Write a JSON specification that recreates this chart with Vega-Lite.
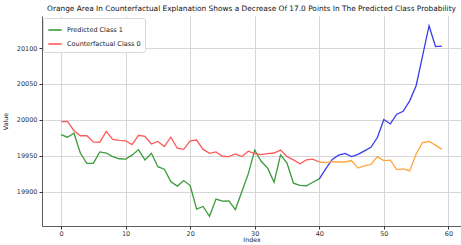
{
  "$schema": "https://vega.github.io/schema/vega-lite/v6.json",
  "width": 419,
  "height": 210,
  "autosize": {"type": "none"},
  "padding": {"left": 42, "top": 16, "right": 0, "bottom": 19},
  "background": "white",
  "title": {
    "text": "Orange Area In Counterfactual Explanation Shows a Decrease Of 17.0 Points In The Predicted Class Probability",
    "font": "DejaVu Sans",
    "fontSize": 7.4,
    "fontWeight": "normal",
    "color": "#111",
    "anchor": "middle",
    "offset": 4
  },
  "config": {
    "view": {"stroke": null},
    "axis": {
      "labelFont": "DejaVu Sans",
      "labelFontSize": 6.5,
      "labelColor": "#333",
      "titleFont": "DejaVu Sans",
      "titleFontSize": 6.3,
      "titleFontWeight": "normal",
      "titleColor": "#222",
      "tickColor": "#333",
      "tickSize": 3,
      "domainColor": "#333",
      "domainWidth": 0.8,
      "gridColor": "#d2d2d2",
      "gridWidth": 0.9
    }
  },
  "data": {
    "values": [
      {"i":0,"v":19979.6,"s":"Predicted Class 1"},
      {"i":1,"v":19976,"s":"Predicted Class 1"},
      {"i":2,"v":19981.4,"s":"Predicted Class 1"},
      {"i":3,"v":19953.6,"s":"Predicted Class 1"},
      {"i":4,"v":19939.7,"s":"Predicted Class 1"},
      {"i":5,"v":19939.7,"s":"Predicted Class 1"},
      {"i":6,"v":19955.5,"s":"Predicted Class 1"},
      {"i":7,"v":19954,"s":"Predicted Class 1"},
      {"i":8,"v":19949,"s":"Predicted Class 1"},
      {"i":9,"v":19946,"s":"Predicted Class 1"},
      {"i":10,"v":19945.5,"s":"Predicted Class 1"},
      {"i":11,"v":19951,"s":"Predicted Class 1"},
      {"i":12,"v":19958.7,"s":"Predicted Class 1"},
      {"i":13,"v":19944.4,"s":"Predicted Class 1"},
      {"i":14,"v":19953.6,"s":"Predicted Class 1"},
      {"i":15,"v":19935,"s":"Predicted Class 1"},
      {"i":16,"v":19931.4,"s":"Predicted Class 1"},
      {"i":17,"v":19914.3,"s":"Predicted Class 1"},
      {"i":18,"v":19908,"s":"Predicted Class 1"},
      {"i":19,"v":19915.7,"s":"Predicted Class 1"},
      {"i":20,"v":19908.7,"s":"Predicted Class 1"},
      {"i":21,"v":19876,"s":"Predicted Class 1"},
      {"i":22,"v":19879.6,"s":"Predicted Class 1"},
      {"i":23,"v":19866,"s":"Predicted Class 1"},
      {"i":24,"v":19890,"s":"Predicted Class 1"},
      {"i":25,"v":19887,"s":"Predicted Class 1"},
      {"i":26,"v":19887.5,"s":"Predicted Class 1"},
      {"i":27,"v":19875.4,"s":"Predicted Class 1"},
      {"i":28,"v":19900,"s":"Predicted Class 1"},
      {"i":29,"v":19925,"s":"Predicted Class 1"},
      {"i":30,"v":19958,"s":"Predicted Class 1"},
      {"i":31,"v":19942.5,"s":"Predicted Class 1"},
      {"i":32,"v":19933,"s":"Predicted Class 1"},
      {"i":33,"v":19913.3,"s":"Predicted Class 1"},
      {"i":34,"v":19951.4,"s":"Predicted Class 1"},
      {"i":35,"v":19940,"s":"Predicted Class 1"},
      {"i":36,"v":19912,"s":"Predicted Class 1"},
      {"i":37,"v":19909,"s":"Predicted Class 1"},
      {"i":38,"v":19908.5,"s":"Predicted Class 1"},
      {"i":39,"v":19913.3,"s":"Predicted Class 1"},
      {"i":40,"v":19918,"s":"Predicted Class 1"},
      {"i":0,"v":19997.6,"s":"Counterfactual Class 0"},
      {"i":1,"v":19998,"s":"Counterfactual Class 0"},
      {"i":2,"v":19985,"s":"Counterfactual Class 0"},
      {"i":3,"v":19978,"s":"Counterfactual Class 0"},
      {"i":4,"v":19978,"s":"Counterfactual Class 0"},
      {"i":5,"v":19969.4,"s":"Counterfactual Class 0"},
      {"i":6,"v":19969,"s":"Counterfactual Class 0"},
      {"i":7,"v":19984,"s":"Counterfactual Class 0"},
      {"i":8,"v":19973,"s":"Counterfactual Class 0"},
      {"i":9,"v":19971.5,"s":"Counterfactual Class 0"},
      {"i":10,"v":19971,"s":"Counterfactual Class 0"},
      {"i":11,"v":19965.7,"s":"Counterfactual Class 0"},
      {"i":12,"v":19978.6,"s":"Counterfactual Class 0"},
      {"i":13,"v":19977,"s":"Counterfactual Class 0"},
      {"i":14,"v":19966.5,"s":"Counterfactual Class 0"},
      {"i":15,"v":19970,"s":"Counterfactual Class 0"},
      {"i":16,"v":19963,"s":"Counterfactual Class 0"},
      {"i":17,"v":19976,"s":"Counterfactual Class 0"},
      {"i":18,"v":19960.6,"s":"Counterfactual Class 0"},
      {"i":19,"v":19959,"s":"Counterfactual Class 0"},
      {"i":20,"v":19971,"s":"Counterfactual Class 0"},
      {"i":21,"v":19972,"s":"Counterfactual Class 0"},
      {"i":22,"v":19959,"s":"Counterfactual Class 0"},
      {"i":23,"v":19953.6,"s":"Counterfactual Class 0"},
      {"i":24,"v":19955.5,"s":"Counterfactual Class 0"},
      {"i":25,"v":19949.5,"s":"Counterfactual Class 0"},
      {"i":26,"v":19949,"s":"Counterfactual Class 0"},
      {"i":27,"v":19952.7,"s":"Counterfactual Class 0"},
      {"i":28,"v":19949,"s":"Counterfactual Class 0"},
      {"i":29,"v":19956.5,"s":"Counterfactual Class 0"},
      {"i":30,"v":19953,"s":"Counterfactual Class 0"},
      {"i":31,"v":19951.8,"s":"Counterfactual Class 0"},
      {"i":32,"v":19953,"s":"Counterfactual Class 0"},
      {"i":33,"v":19954,"s":"Counterfactual Class 0"},
      {"i":34,"v":19958,"s":"Counterfactual Class 0"},
      {"i":35,"v":19949,"s":"Counterfactual Class 0"},
      {"i":36,"v":19944.5,"s":"Counterfactual Class 0"},
      {"i":37,"v":19939,"s":"Counterfactual Class 0"},
      {"i":38,"v":19944.5,"s":"Counterfactual Class 0"},
      {"i":39,"v":19945.5,"s":"Counterfactual Class 0"},
      {"i":40,"v":19941.5,"s":"Counterfactual Class 0"},
      {"i":40,"v":19918,"s":"Predicted Class 1 (explained)"},
      {"i":41,"v":19932,"s":"Predicted Class 1 (explained)"},
      {"i":42,"v":19945,"s":"Predicted Class 1 (explained)"},
      {"i":43,"v":19951,"s":"Predicted Class 1 (explained)"},
      {"i":44,"v":19953.5,"s":"Predicted Class 1 (explained)"},
      {"i":45,"v":19949,"s":"Predicted Class 1 (explained)"},
      {"i":46,"v":19952,"s":"Predicted Class 1 (explained)"},
      {"i":47,"v":19957,"s":"Predicted Class 1 (explained)"},
      {"i":48,"v":19962,"s":"Predicted Class 1 (explained)"},
      {"i":49,"v":19975.5,"s":"Predicted Class 1 (explained)"},
      {"i":50,"v":20000.5,"s":"Predicted Class 1 (explained)"},
      {"i":51,"v":19994.4,"s":"Predicted Class 1 (explained)"},
      {"i":52,"v":20008,"s":"Predicted Class 1 (explained)"},
      {"i":53,"v":20012,"s":"Predicted Class 1 (explained)"},
      {"i":54,"v":20026.5,"s":"Predicted Class 1 (explained)"},
      {"i":55,"v":20047.6,"s":"Predicted Class 1 (explained)"},
      {"i":56,"v":20089,"s":"Predicted Class 1 (explained)"},
      {"i":57,"v":20131,"s":"Predicted Class 1 (explained)"},
      {"i":58,"v":20102,"s":"Predicted Class 1 (explained)"},
      {"i":59,"v":20102.5,"s":"Predicted Class 1 (explained)"},
      {"i":40,"v":19941.5,"s":"Counterfactual Class 0 (explained)"},
      {"i":41,"v":19940.7,"s":"Counterfactual Class 0 (explained)"},
      {"i":42,"v":19942,"s":"Counterfactual Class 0 (explained)"},
      {"i":43,"v":19941.5,"s":"Counterfactual Class 0 (explained)"},
      {"i":44,"v":19941.5,"s":"Counterfactual Class 0 (explained)"},
      {"i":45,"v":19943.5,"s":"Counterfactual Class 0 (explained)"},
      {"i":46,"v":19933,"s":"Counterfactual Class 0 (explained)"},
      {"i":47,"v":19936,"s":"Counterfactual Class 0 (explained)"},
      {"i":48,"v":19938,"s":"Counterfactual Class 0 (explained)"},
      {"i":49,"v":19949,"s":"Counterfactual Class 0 (explained)"},
      {"i":50,"v":19943.5,"s":"Counterfactual Class 0 (explained)"},
      {"i":51,"v":19944,"s":"Counterfactual Class 0 (explained)"},
      {"i":52,"v":19931,"s":"Counterfactual Class 0 (explained)"},
      {"i":53,"v":19932,"s":"Counterfactual Class 0 (explained)"},
      {"i":54,"v":19929,"s":"Counterfactual Class 0 (explained)"},
      {"i":55,"v":19952.7,"s":"Counterfactual Class 0 (explained)"},
      {"i":56,"v":19968.5,"s":"Counterfactual Class 0 (explained)"},
      {"i":57,"v":19970,"s":"Counterfactual Class 0 (explained)"},
      {"i":58,"v":19965,"s":"Counterfactual Class 0 (explained)"},
      {"i":59,"v":19959,"s":"Counterfactual Class 0 (explained)"}
    ]
  },
  "mark": {"type": "line", "strokeWidth": 1.3},
  "encoding": {
    "x": {
      "field": "i",
      "type": "quantitative",
      "title": "Index",
      "scale": {"domain": [-2.95, 61.95], "nice": false, "zero": false},
      "axis": {"values": [0, 10, 20, 30, 40, 50, 60], "titlePadding": 0, "labelPadding": 1, "titleColor": "#222222"}
    },
    "y": {
      "field": "v",
      "type": "quantitative",
      "title": "Value",
      "scale": {"domain": [19852.5, 20144.5], "nice": false, "zero": false},
      "axis": {"values": [19900, 19950, 20000, 20050, 20100], "format": "d", "titlePadding": 8, "labelPadding": 2, "titleColor": "#222222"}
    },
    "color": {
      "field": "s",
      "type": "nominal",
      "scale": {
        "domain": ["Predicted Class 1", "Counterfactual Class 0", "Predicted Class 1 (explained)", "Counterfactual Class 0 (explained)"],
        "range": ["#3a9a3a", "#ff5a5a", "#3b3bef", "#ffa63c"]
      },
      "legend": {
        "values": ["Predicted Class 1", "Counterfactual Class 0"],
        "title": null,
        "orient": "none",
        "legendX": 1,
        "legendY": 2,
        "labelFont": "DejaVu Sans",
        "labelFontSize": 6.5,
        "labelColor": "#222",
        "symbolType": "stroke",
        "symbolSize": 180,
        "symbolStrokeWidth": 1.6,
        "rowPadding": 2,
        "padding": 4,
        "strokeColor": "#d8d8d8",
        "fillColor": "white",
        "cornerRadius": 2
      }
    },
    "detail": {"field": "s"}
  }
}
